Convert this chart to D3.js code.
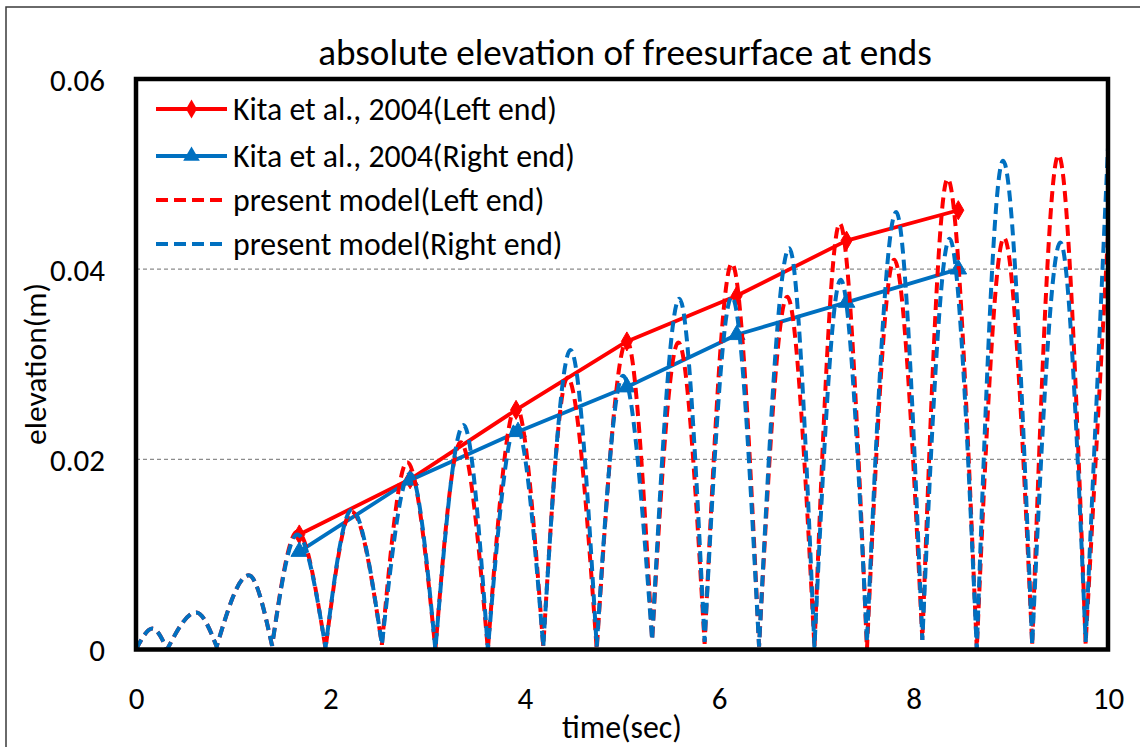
<!DOCTYPE html>
<html>
<head>
<meta charset="utf-8">
<script src="https://cdn.jsdelivr.net/npm/d3@7/dist/d3.min.js"></script>
<style>
html,body{margin:0;padding:0;background:#fff;}
svg{display:block;}
text{font-family:Carlito,Calibri,"Open Sans","Noto Sans",sans-serif;fill:#000;}
</style>
</head>
<body>
<svg id="chart" width="1140" height="747"></svg>
<script>
// ---------------- data ----------------
const titleText = "absolute elevation of freesurface at ends";
const xTitle = "time(sec)";
const yTitle = "elevation(m)";
const xTicks = [0, 2, 4, 6, 8, 10];
const yTicks = [0, 0.02, 0.04, 0.06];
const yTickLabels = ["0", "0.02", "0.04", "0.06"];
const gridValues = [0.02, 0.04];
const seriesNames = [
  "Kita et al., 2004(Left end)",
  "Kita et al., 2004(Right end)",
  "present model(Left end)",
  "present model(Right end)"
];

// Kita et al., 2004 measurements
const kitaTimeLeft  = [1.68, 2.82, 3.91, 5.05, 6.18, 7.31, 8.46];
const kitaLeft      = [0.0121, 0.0179, 0.0252, 0.0324, 0.0372, 0.0430, 0.0462];
const kitaTimeRight = [1.68, 2.82, 3.93, 5.05, 6.18, 7.31, 8.46];
const kitaRight     = [0.0103, 0.0178, 0.0229, 0.0276, 0.0331, 0.0365, 0.0400];

// present model: alternating troughs / crests of |eta|
const modelTimeLeft = [0, 0.17, 0.32, 0.62, 0.83, 1.16, 1.40, 1.66, 1.95, 2.22,
  2.53, 2.79, 3.08, 3.34, 3.62, 3.91, 4.19, 4.44, 4.74, 5.05,
  5.31, 5.58, 5.85, 6.13, 6.41, 6.70, 6.98, 7.24, 7.52, 7.80,
  8.09, 8.35, 8.65, 8.93, 9.22, 9.49, 9.77, 10];
const modelLeft = [0, 0.0022, 0, 0.0039, 0.0003, 0.0078, 0.0004, 0.0124, 0.0001, 0.0145,
  0.0005, 0.0197, 0, 0.0218, 0, 0.0256, 0.0003, 0.0286, 0, 0.0325,
  0.0010, 0.0323, 0.0006, 0.0406, 0.0003, 0.0371, 0.0002, 0.0448, 0, 0.0410,
  0.0010, 0.0495, 0, 0.0433, 0.0005, 0.0520, 0.0006, 0.0436];
const modelTimeRight = [0, 0.17, 0.32, 0.62, 0.83, 1.16, 1.40, 1.66, 1.95, 2.22,
  2.53, 2.82, 3.08, 3.37, 3.62, 3.91, 4.19, 4.47, 4.74, 5.01,
  5.31, 5.59, 5.85, 6.13, 6.41, 6.72, 6.98, 7.25, 7.52, 7.82,
  8.09, 8.37, 8.65, 8.92, 9.22, 9.51, 9.77, 10];
const modelRight = [0, 0.0022, 0, 0.0039, 0.0003, 0.0078, 0.0004, 0.0121, 0.0002, 0.0147,
  0.0005, 0.0185, 0, 0.0236, 0, 0.0236, 0.0003, 0.0315, 0.0003, 0.0288,
  0.0010, 0.0369, 0.0008, 0.0371, 0.0003, 0.0422, 0.0002, 0.0389, 0.0008, 0.0460,
  0.0010, 0.0432, 0, 0.0514, 0.0005, 0.0428, 0.0008, 0.0528];

// ---------------- layout ----------------
const RED = "#FF0000", BLUE = "#0070C0";
const plot = {left: 136, right: 1108, top: 79, bottom: 649.5};
const svg = d3.select("#chart");

const x = d3.scaleLinear().domain([0, 10]).range([plot.left, plot.right]);
const y = d3.scaleLinear().domain([0, 0.06]).range([plot.bottom, plot.top]);

// scale a font so a reference string spans a target width
function fitSize(sel, target) {
  const base = 20;
  sel.style("font-size", base + "px");
  const w = sel.node().getComputedTextLength();
  const size = base * target / w;
  sel.style("font-size", size + "px");
  return size;
}

// outer chart border
svg.append("rect").attr("x", 6).attr("y", 7).attr("width", 1300).attr("height", 900)
  .attr("fill", "#fff").attr("stroke", "#3a3a3a").attr("stroke-width", 1.5);

// title
const title = svg.append("text").attr("x", 625).attr("y", 52).attr("text-anchor", "middle")
  .attr("dominant-baseline", "central").text(titleText);
fitSize(title, 614);

// gridlines
svg.append("g").selectAll("line").data(gridValues).join("line")
  .attr("x1", plot.left).attr("x2", plot.right)
  .attr("y1", d => y(d)).attr("y2", d => y(d))
  .attr("stroke", "#8c8c8c").attr("stroke-width", 1.2).attr("stroke-dasharray", "4,3");

// axes (labels only, Excel style)
const yAxis = d3.axisLeft(y).tickValues(yTicks).tickSize(0).tickPadding(0)
  .tickFormat((d, i) => yTickLabels[i]);
const gy = svg.append("g").attr("transform", `translate(${plot.left - 31},0)`).call(yAxis);
gy.select(".domain").remove();
gy.attr("font-family", null).attr("font-size", null);
const yLabels = gy.selectAll("text").attr("dy", null).attr("dominant-baseline", "central");
const tickSize = fitSize(gy.selectAll("text").filter((d, i) => i === 3), 55);
yLabels.style("font-size", tickSize + "px");

const xAxis = d3.axisBottom(x).tickValues(xTicks).tickSize(0).tickPadding(0);
const gx = svg.append("g").attr("transform", `translate(0,${plot.bottom + 48})`).call(xAxis);
gx.select(".domain").remove();
gx.attr("font-family", null).attr("font-size", null);
gx.selectAll("text").attr("dy", null).attr("y", 0).attr("dominant-baseline", "central")
  .style("font-size", tickSize + "px");

// axis titles
const xt = svg.append("text").attr("x", 622).attr("y", 727).attr("text-anchor", "middle")
  .attr("dominant-baseline", "central").text(xTitle);
fitSize(xt, 120);
const yt = svg.append("text").attr("transform", "translate(35,364) rotate(-90)").attr("text-anchor", "middle")
  .attr("dominant-baseline", "central").text(yTitle);
fitSize(yt, 162);

// clip
svg.append("clipPath").attr("id", "clip").append("rect")
  .attr("x", plot.left).attr("y", plot.top - 2)
  .attr("width", plot.right - plot.left).attr("height", plot.bottom - plot.top + 2);

const gData = svg.append("g").attr("clip-path", "url(#clip)");

// Kita lines
const line = d3.line();
function kita(times, vals, color, symbolType, size) {
  const pts = times.map((t, i) => [x(t), y(vals[i])]);
  gData.append("path").attr("d", line(pts)).attr("fill", "none")
    .attr("stroke", color).attr("stroke-width", 3.8).attr("stroke-linejoin", "round");
  gData.append("g").selectAll("path").data(pts).join("path")
    .attr("transform", d => `translate(${d[0]},${d[1]})`)
    .attr("d", d3.symbol().type(symbolType).size(size)())
    .attr("fill", color).attr("stroke", color).attr("stroke-width", 1);
}
kita(kitaTimeLeft, kitaLeft, RED, d3.symbolDiamond, 105);
kita(kitaTimeRight, kitaRight, BLUE, d3.symbolTriangle, 120);

// model: arches between successive troughs, monotone cubic through crest
function archPath(times, vals) {
  const pts = times.map((t, i) => [x(t), y(vals[i])]);
  const gen = d3.line().curve(d3.curveMonotoneX);
  let d = "";
  for (let i = 0; i + 1 < pts.length; i += 2) {
    const seg = pts.slice(i, Math.min(i + 3, pts.length));
    let s = gen(seg);
    if (i > 0) s = s.replace(/^M[^CLZ]*/, "");
    d += s;
  }
  return d;
}
gData.append("path").attr("d", archPath(modelTimeLeft, modelLeft)).attr("fill", "none")
  .attr("stroke", RED).attr("stroke-width", 4).attr("stroke-dasharray", "11,6");
gData.append("path").attr("d", archPath(modelTimeRight, modelRight)).attr("fill", "none")
  .attr("stroke", BLUE).attr("stroke-width", 4).attr("stroke-dasharray", "11,6");

// plot frame
svg.append("rect").attr("x", plot.left).attr("y", plot.top)
  .attr("width", plot.right - plot.left).attr("height", plot.bottom - plot.top)
  .attr("fill", "none").attr("stroke", "#000").attr("stroke-width", 4.5);

// legend
const legend = svg.append("g");
const legRows = [109, 156, 200, 244];
const lx0 = 156, lx1 = 227, ltx = 233;
let legSize = null;
seriesNames.forEach((name, i) => {
  const yy = legRows[i];
  const color = i % 2 === 0 ? RED : BLUE;
  const ln = legend.append("line").attr("x1", lx0).attr("x2", lx1).attr("y1", yy).attr("y2", yy)
    .attr("stroke", color).attr("stroke-width", 3.8);
  if (i >= 2) ln.attr("stroke-dasharray", "12,6");
  if (i === 0) legend.append("path").attr("transform", `translate(${(lx0 + lx1) / 2},${yy})`)
    .attr("d", d3.symbol().type(d3.symbolDiamond).size(105)()).attr("fill", RED);
  if (i === 1) legend.append("path").attr("transform", `translate(${(lx0 + lx1) / 2},${yy})`)
    .attr("d", d3.symbol().type(d3.symbolTriangle).size(120)()).attr("fill", BLUE);
  const t = legend.append("text").attr("x", ltx).attr("y", yy).attr("dominant-baseline", "central")
    .text(name);
  if (i === 0) legSize = fitSize(t, 324);
  else t.style("font-size", legSize + "px");
});
</script>
</body>
</html>
